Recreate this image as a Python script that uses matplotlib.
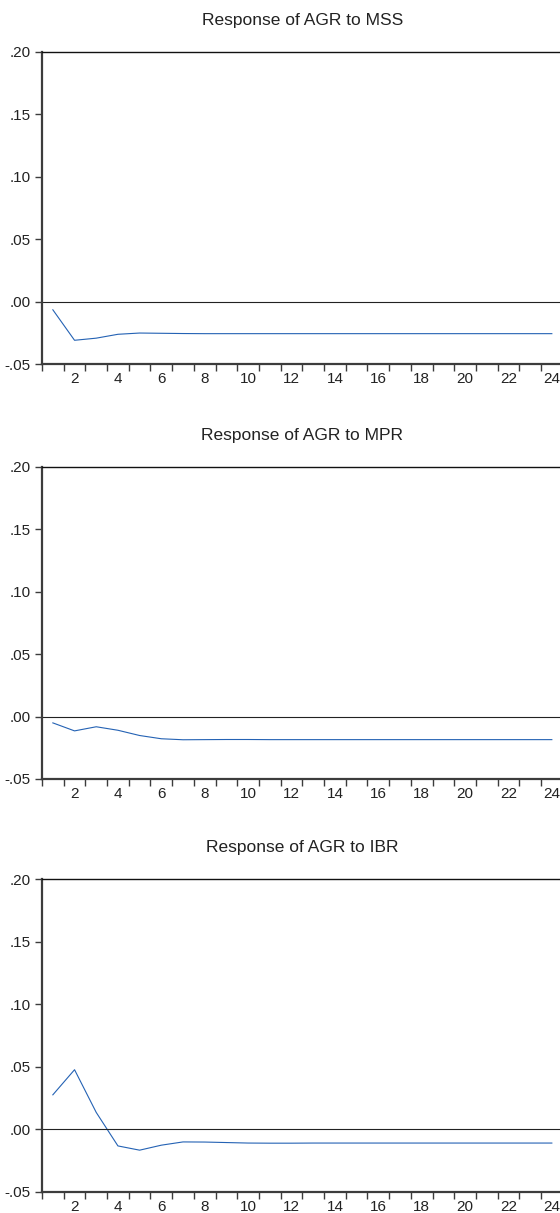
import matplotlib.pyplot as plt
from matplotlib.ticker import FuncFormatter, FixedLocator

plt.rcParams['font.family'] = ['Liberation Sans', 'DejaVu Sans']

# impulse response horizon
periods = list(range(1, 25))

# responses
resp_mss = [-0.0066, -0.0310, -0.0293, -0.0262, -0.0252, -0.0254, -0.0256, -0.0257,
            -0.0257, -0.0257, -0.0257, -0.0257, -0.0257, -0.0257, -0.0257, -0.0257,
            -0.0257, -0.0257, -0.0257, -0.0257, -0.0257, -0.0257, -0.0257, -0.0257]
resp_mpr = [-0.0051, -0.0115, -0.0082, -0.0110, -0.0152, -0.0178, -0.0186, -0.0185,
            -0.0184, -0.0184, -0.0185, -0.0185, -0.0185, -0.0185, -0.0185, -0.0185,
            -0.0185, -0.0185, -0.0185, -0.0185, -0.0185, -0.0185, -0.0185, -0.0185]
resp_ibr = [0.0275, 0.0476, 0.0134, -0.0134, -0.0168, -0.0128, -0.0102, -0.0103,
            -0.0107, -0.0111, -0.0112, -0.0112, -0.0111, -0.0111, -0.0111, -0.0111,
            -0.0111, -0.0111, -0.0111, -0.0111, -0.0111, -0.0111, -0.0111, -0.0111]

titles = ['Response of AGR to MSS', 'Response of AGR to MPR', 'Response of AGR to IBR']
series = [resp_mss, resp_mpr, resp_ibr]
y_ticks = [-0.05, 0.00, 0.05, 0.10, 0.15, 0.20]


def eviews_fmt(v, pos):
    s = f'{v:.2f}'
    if s == '-0.00':
        s = '0.00'
    return s.replace('0.', '.', 1)


fig = plt.figure(figsize=(5.6, 12.13), dpi=100)
bottoms = [0.6999, 0.3578, 0.0176]
spine_col = '#3c3c3c'
text_col = '#222222'

for bottom, title, vals in zip(bottoms, titles, series):
    ax = fig.add_axes([0.075, bottom, 0.9298, 0.2575])
    ax.plot(periods, vals, color='#2462b4', lw=0.8)
    ax.axhline(0, color='#222222', lw=0.8)
    ax.set_xlim(0.5, 24.5)
    ax.set_ylim(-0.05, 0.20)

    ax.set_title(title, fontsize=12.5, pad=19.5, color=text_col)

    ax.yaxis.set_major_locator(FixedLocator(y_ticks))
    ax.yaxis.set_major_formatter(FuncFormatter(eviews_fmt))
    ax.tick_params(axis='y', direction='out', length=5, width=1,
                   color=spine_col, labelsize=11, pad=3, labelcolor=text_col)

    ax.xaxis.set_major_locator(FixedLocator(list(range(2, 25, 2))))
    ax.xaxis.set_minor_locator(FixedLocator([k + 0.5 for k in range(0, 24)]))
    ax.tick_params(axis='x', which='major', length=0, labelsize=11, pad=6,
                   labelcolor=text_col)
    ax.tick_params(axis='x', which='minor', direction='out', length=5, width=1,
                   color=spine_col)

    ax.spines['right'].set_visible(False)
    ax.spines['top'].set_color('#111111')
    ax.spines['top'].set_linewidth(1.0)
    for side in ['left', 'bottom']:
        ax.spines[side].set_color(spine_col)
        ax.spines[side].set_linewidth(1.6)

fig.savefig('out.png', dpi=100)
